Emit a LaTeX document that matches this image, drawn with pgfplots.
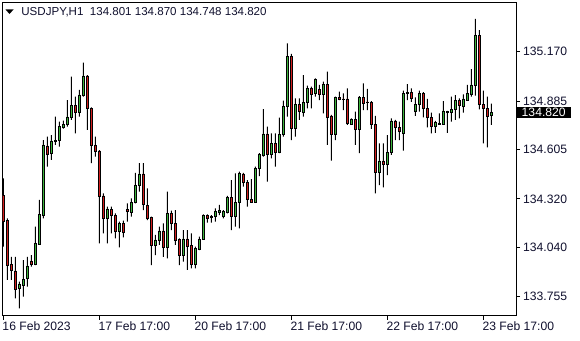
\documentclass[border=0pt]{standalone}
\usepackage{pgfplots}
\pgfplotsset{compat=1.18}
\usepackage{pgfplotstable}
\usepackage{fontspec}
\setmainfont{Liberation Sans}
\definecolor{bull}{RGB}{60,180,60}
\definecolor{bear}{RGB}{210,30,30}
\definecolor{txt}{RGB}{15,15,45}

\pgfplotstableread{
i O H L C
0 134.342 134.439 134.044 134.189
1 134.195 134.208 133.852 133.938
2 133.944 133.986 133.852 133.906
3 133.904 133.986 133.746 133.798
4 133.802 133.842 133.688 133.829
5 133.819 133.967 133.756 133.856
6 133.860 133.986 133.814 133.933
7 133.962 133.996 133.929 133.942
8 133.942 134.160 133.938 134.063
9 134.059 134.314 134.054 134.231
10 134.227 134.660 134.208 134.632
11 134.626 134.680 134.506 134.580
12 134.584 134.689 134.545 134.655
13 134.651 134.795 134.632 134.660
14 134.657 134.766 134.622 134.737
15 134.731 134.772 134.726 134.752
16 134.749 134.891 134.737 134.793
17 134.791 135.026 134.776 134.862
18 134.860 134.910 134.699 134.818
19 134.818 134.949 134.795 134.920
20 134.916 135.107 134.910 135.030
21 135.030 135.035 134.718 134.843
22 134.843 134.849 134.526 134.628
23 134.630 134.680 134.564 134.593
24 134.597 134.602 134.063 134.333
25 134.337 134.352 134.121 134.206
26 134.206 134.275 134.063 134.262
27 134.260 134.275 134.121 134.225
28 134.227 134.237 134.092 134.131
29 134.131 134.189 134.040 134.179
30 134.179 134.195 134.098 134.127
31 134.260 134.294 134.189 134.246
32 134.243 134.323 134.218 134.302
33 134.300 134.471 134.294 134.398
34 134.396 134.526 134.362 134.464
35 134.464 134.526 134.256 134.287
36 134.283 134.381 134.198 134.208
37 134.214 134.218 133.938 134.050
38 134.050 134.112 133.996 134.083
39 134.083 134.160 134.054 134.135
40 134.135 134.179 133.986 134.038
41 134.038 134.362 133.977 134.237
42 134.237 134.252 134.140 134.179
43 134.179 134.256 134.054 134.083
44 134.087 134.092 133.938 133.992
45 133.992 134.140 133.958 134.089
46 134.089 134.140 133.910 134.048
47 134.050 134.121 133.919 133.944
48 133.944 134.044 133.919 134.033
49 134.031 134.102 134.025 134.087
50 134.087 134.231 134.083 134.227
51 134.227 134.231 134.183 134.210
52 134.221 134.227 134.183 134.214
53 134.218 134.266 134.189 134.250
54 134.245 134.285 134.227 134.256
55 134.218 134.256 134.208 134.250
56 134.243 134.337 134.237 134.329
57 134.329 134.429 134.140 134.218
58 134.218 134.468 134.160 134.302
59 134.300 134.477 134.150 134.468
60 134.464 134.471 134.391 134.414
61 134.414 134.429 134.275 134.318
62 134.318 134.435 134.298 134.302
63 134.300 134.506 134.298 134.497
64 134.497 134.584 134.452 134.577
65 134.574 134.839 134.564 134.695
66 134.695 134.737 134.420 134.577
67 134.577 134.699 134.554 134.641
68 134.641 134.699 134.506 134.587
69 134.591 134.789 134.584 134.693
70 134.691 134.887 134.680 134.856
71 134.852 135.218 134.795 135.145
72 135.145 135.157 134.660 134.728
73 134.728 134.901 134.680 134.866
74 134.866 134.901 134.776 134.824
75 134.820 135.035 134.795 134.878
76 134.878 134.974 134.843 134.958
77 134.958 134.968 134.843 134.924
78 134.928 135.016 134.910 135.012
79 134.953 134.978 134.891 134.924
80 134.924 134.997 134.814 134.982
81 134.982 135.055 134.632 134.791
82 134.799 134.805 134.541 134.693
83 134.695 134.910 134.660 134.906
84 134.906 134.939 134.891 134.893
85 134.897 134.930 134.833 134.895
86 134.897 134.958 134.747 134.756
87 134.752 134.785 134.747 134.779
88 134.781 134.824 134.632 134.722
89 134.722 134.914 134.584 134.906
90 134.906 134.987 134.833 134.872
91 134.880 134.955 134.833 134.876
92 134.878 134.885 134.724 134.751
93 134.751 134.799 134.352 134.473
94 134.473 134.641 134.400 134.539
95 134.539 134.641 134.387 134.520
96 134.520 134.689 134.458 134.589
97 134.587 134.785 134.574 134.770
98 134.770 134.776 134.660 134.731
99 134.731 134.766 134.660 134.712
100 134.699 134.945 134.599 134.930
101 134.928 134.983 134.891 134.937
102 134.937 134.958 134.881 134.901
103 134.828 134.906 134.799 134.868
104 134.866 134.945 134.824 134.930
105 134.930 134.937 134.791 134.843
106 134.843 134.897 134.733 134.789
107 134.791 134.818 134.699 134.737
108 134.737 134.770 134.702 134.762
109 134.752 134.814 134.751 134.756
110 134.752 134.885 134.751 134.828
111 134.824 134.828 134.702 134.822
112 134.820 134.910 134.766 134.839
113 134.837 134.920 134.776 134.891
114 134.891 134.901 134.785 134.858
115 134.856 134.924 134.818 134.897
116 134.891 134.978 134.887 134.930
117 134.926 135.070 134.910 134.978
118 134.974 135.359 134.916 135.266
119 135.266 135.295 134.837 134.866
120 134.866 134.945 134.641 134.843
121 134.843 134.910 134.618 134.795
122 134.801 134.870 134.748 134.820
}\candles

\newcommand{\lblfont}{\fontsize{12.2}{14}\selectfont}
\newcommand{\hdrfont}{\fontsize{11.6}{13}\selectfont}

\begin{document}
\begin{tikzpicture}[x=1bp,y=1bp]
\useasboundingbox (-2.7,-24.3) rectangle (577.3,315.7);
\begin{axis}[
  at={(0,0)}, anchor=south west,
  width=513.3bp, height=313bp, scale only axis,
  xmin=-0.15, xmax=128.175, ymin=133.6457, ymax=135.4529,
  ybar stacked,
  bar width=2.6bp,
  axis line style={black, line width=0.9bp},
  tick align=outside, major tick length=4bp,
  tick style={black, line width=0.9bp},
  xtick={0,24,48,72,96,120},
  xticklabels={16 Feb 2023,17 Feb 17:00,20 Feb 17:00,21 Feb 17:00,22 Feb 17:00,23 Feb 17:00},
  xtick pos=left,
  xticklabel style={anchor=north west, inner sep=0pt, xshift=-1bp, yshift=-2bp, font=\lblfont, text=txt},
  ytick={133.755,134.040,134.320,134.605,134.885,135.170},
  yticklabels={133.755,134.040,134.320,134.605,134.885,135.170},
  ytick pos=right, yticklabel pos=right,
  yticklabel style={anchor=west, inner sep=0pt, xshift=3bp, font=\lblfont, text=txt},
  minor tick num=0,
]
\addplot[fill=none, draw=none] table[x=i, y=L] {\candles};
\addplot[fill=black, draw=none, bar width=1bp] table[x=i, y expr={min(\thisrow{O},\thisrow{C})-\thisrow{L}}] {\candles};
\addplot[fill=bull, draw=black, line width=0.7bp] table[x=i, y expr={max(\thisrow{C}-\thisrow{O},0)}] {\candles};
\addplot[fill=bear, draw=black, line width=0.7bp] table[x=i, y expr={max(\thisrow{O}-\thisrow{C},0)}] {\candles};
\addplot[fill=black, draw=none, bar width=1bp] table[x=i, y expr={\thisrow{H}-max(\thisrow{O},\thisrow{C})}] {\candles};
\end{axis}
% header
\fill[black] (2.8,306.2) -- (10.8,306.2) -- (6.8,301.7) -- cycle;
\node[anchor=base west, inner sep=0pt, font=\hdrfont, text=txt] at (18.5,300.7) {USDJPY,H1};
\node[anchor=base west, inner sep=0pt, font=\hdrfont, text=txt] at (87,300.7) {134.801 134.870 134.748 134.820};
% current price box
\node[anchor=west, fill=black, text=white, inner sep=0pt, minimum width=55bp, minimum height=11bp, font=\lblfont] at (513.3,203.0) {134.820};
\end{tikzpicture}
\end{document}
